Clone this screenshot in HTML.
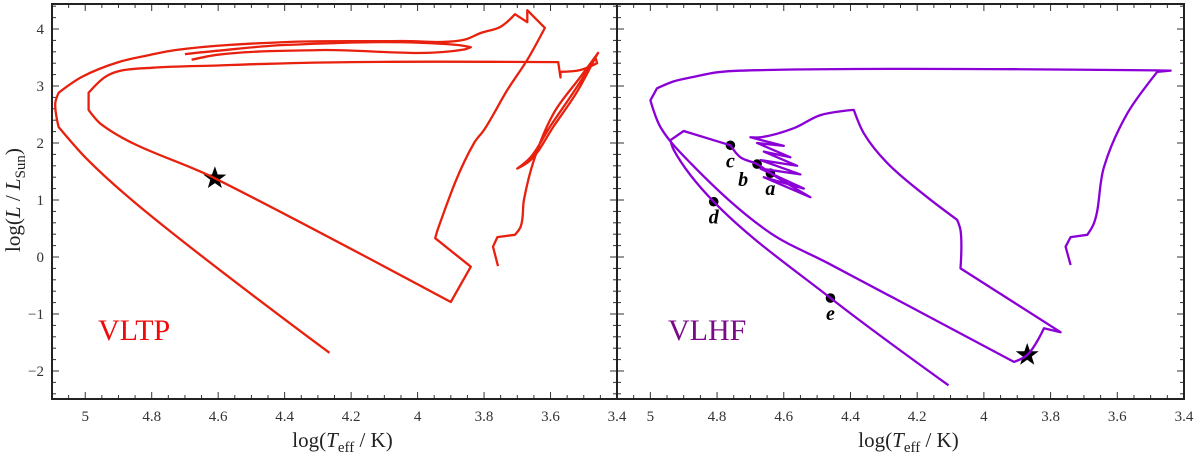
<!DOCTYPE html>
<html><head><meta charset="utf-8"><style>
html,body{margin:0;padding:0;background:#fff;}
svg{display:block;font-family:"Liberation Serif",serif;}
</style></head><body>
<svg id="c" width="1200" height="457" viewBox="0 0 1200 457">
<g id="plot"></g>
</svg>
<script>
const xTicks=[5,4.8,4.6,4.4,4.2,4,3.8,3.6,3.4];
const xTickLabels=["5","4.8","4.6","4.4","4.2","4","3.8","3.6","3.4"];
const yTicks=[-2,-1,0,1,2,3,4];
const yTickLabels=["−2","−1","0","1","2","3","4"];
// VLTP series (logT, logL)
const vltpMainT=[3.758,3.773,3.76,3.707,3.69,3.68,3.65,3.59,3.51,3.457,3.47,3.53,3.6,3.66,3.70,3.66,3.59,3.52,3.465,3.46,3.51,3.57,3.57,3.577,4.2,4.45,4.6,4.8,4.9,4.94,4.99,4.99,4.95,4.61,3.90,3.84,3.947,3.94,3.83,3.80,3.73,3.67,3.617,3.67,3.67,3.707,3.75,3.81,3.86,4.05,4.4,4.73,4.81,4.9,5.01,5.08,5.09,5.08,5.0,4.86,4.265];
const vltpMainL=[-0.16,0.18,0.35,0.39,0.53,1.0,1.7,2.53,3.16,3.58,3.45,2.9,2.3,1.75,1.55,1.7,2.3,2.9,3.5,3.4,3.28,3.25,3.15,3.42,3.42,3.39,3.36,3.32,3.26,3.16,2.88,2.58,2.32,1.38,-0.79,-0.17,0.33,0.47,2.0,2.23,2.93,3.46,4.02,4.33,4.12,4.26,4.04,3.93,3.81,3.79,3.77,3.63,3.54,3.42,3.16,2.88,2.7,2.28,1.75,1.0,-1.68];
const vltpHookT=[4.68,4.6,4.3,3.86,3.84,3.88,4.4,4.6,4.7];
const vltpHookL=[3.46,3.55,3.63,3.64,3.68,3.72,3.72,3.62,3.56];
const vltpStar=[4.61,1.38];
// VLHF series
const vlhfMainT=[3.74,3.755,3.74,3.69,3.67,3.64,3.57,3.48,3.44,4.65,4.8,4.87,4.93,4.98,5.0,4.97,4.88,4.64,4.47,3.91,3.87,3.82,3.77,4.07,4.07,4.08,4.17,4.29,4.36,4.39,4.49,4.57,4.67,4.7,4.6,4.68,4.58,4.66,4.56,4.67,4.55,4.67,4.54,4.66,4.52,4.64,4.68,4.73,4.76,4.9,4.94,4.93,4.81,4.46,4.106];
const vlhfMainL=[-0.14,0.18,0.35,0.39,0.59,1.58,2.52,3.25,3.27,3.28,3.24,3.16,3.08,2.96,2.75,2.28,1.65,0.42,-0.1,-1.84,-1.72,-1.25,-1.32,-0.2,0.47,0.65,1.05,1.65,2.17,2.58,2.49,2.26,2.1,2.1,1.95,2.0,1.75,1.85,1.6,1.7,1.45,1.55,1.2,1.4,1.05,1.47,1.63,1.75,1.96,2.21,2.05,1.88,0.97,-0.72,-2.25];
const vlhfStar=[3.87,-1.72];
const ptNames=["a","b","c","d","e"];
const ptT=[4.64,4.68,4.76,4.81,4.46];
const ptL=[1.47,1.63,1.96,0.97,-0.72];
const ptLabDx=[0,-14,0,0,0];

const NS="http://www.w3.org/2000/svg";
const root=document.getElementById('plot');
function mk(tag,attrs,parent){const e=document.createElementNS(NS,tag);for(const k in attrs)e.setAttribute(k,attrs[k]);(parent||root).appendChild(e);return e;}
const yTop=4,yBot=399,Tmax=5.1,Tmin=3.4;
const yS=L=>257-L*57;
function panel(x0,x1){return T=>x0+(Tmax-T)/(Tmax-Tmin)*(x1-x0);}
const panels=[{x0:52,x1:617},{x0:617,x1:1184}];
function starPath(cx,cy,r){let p="";for(let i=0;i<10;i++){const a=-Math.PI/2+i*Math.PI/5;const rr=i%2?r*0.4:r;p+=(i?"L":"M")+(cx+rr*Math.cos(a)).toFixed(1)+","+(cy+rr*Math.sin(a)).toFixed(1);}return p+"Z";}
function line(T,L,xs,color,name){
  const P=T.map((t,i)=>[xs(t),yS(L[i])]);
  const n=P.length;
  const tan=P.map((p,i)=>{
    if(i===0||i===n-1)return [0,0];
    const a=[p[0]-P[i-1][0],p[1]-P[i-1][1]],b=[P[i+1][0]-p[0],P[i+1][1]-p[1]];
    const la=Math.hypot(a[0],a[1])||1,lb=Math.hypot(b[0],b[1])||1;
    const cos=(a[0]*b[0]+a[1]*b[1])/(la*lb);
    if(cos<0.85)return [0,0];
    const u=[a[0]/la+b[0]/lb,a[1]/la+b[1]/lb];const lu=Math.hypot(u[0],u[1])||1;
    return [u[0]/lu,u[1]/lu];
  });
  let d="M"+P[0][0].toFixed(1)+","+P[0][1].toFixed(1);
  for(let i=0;i<n-1;i++){
    const p1=P[i],p2=P[i+1];const len=Math.hypot(p2[0]-p1[0],p2[1]-p1[1])/3;
    const c1=[p1[0]+tan[i][0]*len,p1[1]+tan[i][1]*len];
    const c2=[p2[0]-tan[i+1][0]*len,p2[1]-tan[i+1][1]*len];
    d+="C"+c1[0].toFixed(1)+","+c1[1].toFixed(1)+" "+c2[0].toFixed(1)+","+c2[1].toFixed(1)+" "+p2[0].toFixed(1)+","+p2[1].toFixed(1);
  }
  const p=mk('path',{d:d,fill:"none",stroke:color,"stroke-width":2.3,"stroke-linejoin":"round"});
  
  }
panels.forEach((P,pi)=>{
  const xs=panel(P.x0,P.x1);
  const g=mk('g',{});
  
  
  for(let k=0;k<=34;k++){const v=3.4+k*0.05;const x=xs(v);const maj=k%4===0;const len=maj?7:4;
    mk('line',{x1:x,x2:x,y1:yBot,y2:yBot-len,stroke:"#333","stroke-width":1},g);
    mk('line',{x1:x,x2:x,y1:yTop,y2:yTop+len,stroke:"#333","stroke-width":1},g);}
  for(let k=0;k<=34;k++){const v=-2.4+k*0.2;const y=yS(v);const maj=(k-2)%5===0;const len=maj?7:4;
    mk('line',{x1:P.x0,x2:P.x0+len,y1:y,y2:y,stroke:"#333","stroke-width":1},g);
    mk('line',{x1:P.x1,x2:P.x1-len,y1:y,y2:y,stroke:"#333","stroke-width":1},g);}
  xTicks.forEach((v,i)=>{const t=mk('text',{x:xs(v),y:421,"text-anchor":"middle","font-size":15,fill:"#333"},g);t.textContent=xTickLabels[i];
    
    });
  const xl=mk('text',{x:(P.x0+P.x1)/2+8,y:447,"text-anchor":"middle","font-size":21,fill:"#222"},g);
  xl.innerHTML='log(<tspan font-style="italic">T</tspan><tspan font-size="15" dy="5">eff</tspan><tspan dy="-5"> / K)</tspan>';
  
  
  if(pi===0){
    line(vltpMainT,vltpMainL,xs,"#e8200e","vltp-track");
    line(vltpHookT,vltpHookL,xs,"#e8200e","vltp-track-hook");
    const s=mk('path',{d:starPath(xs(vltpStar[0]),yS(vltpStar[1]),12),fill:"#000"},g);
    
    
    const lb=mk('text',{x:98,y:340,"font-size":30,fill:"#f00a0a"},g);lb.textContent="VLTP";
    
    
  } else {
    line(vlhfMainT,vlhfMainL,xs,"#8a00d6","vlhf-track");
    const s=mk('path',{d:starPath(xs(vlhfStar[0]),yS(vlhfStar[1]),12),fill:"#000"},g);
    
    
    ptNames.forEach((n,i)=>{const c=mk('circle',{cx:xs(ptT[i]),cy:yS(ptL[i]),r:4.8,fill:"#000"},g);
      
      
      const t=mk('text',{x:xs(ptT[i])+ptLabDx[i],y:yS(ptL[i])+22,"text-anchor":"middle","font-size":20,"font-style":"italic","font-weight":"bold",fill:"#000"},g);t.textContent=n;
      
      });
    const lb=mk('text',{x:668,y:340,"font-size":30,fill:"#7a0a88"},g);lb.textContent="VLHF";
    
    
  }
  mk('rect',{x:P.x0,y:yTop,width:P.x1-P.x0,height:yBot-yTop,fill:"none",stroke:"#222","stroke-width":2},g);
});
yTicks.forEach((v,i)=>{const t=mk('text',{x:44,y:yS(v)+5,"text-anchor":"end","font-size":15,fill:"#333"});t.textContent=yTickLabels[i];
  
  });
const yl=mk('text',{x:0,y:0,"text-anchor":"middle","font-size":21,fill:"#222",transform:"translate(20,200) rotate(-90)"});
yl.innerHTML='log(<tspan font-style="italic">L</tspan> / <tspan font-style="italic">L</tspan><tspan font-size="15" dy="5">Sun</tspan><tspan dy="-5">)</tspan>';


</script>
</body></html>
